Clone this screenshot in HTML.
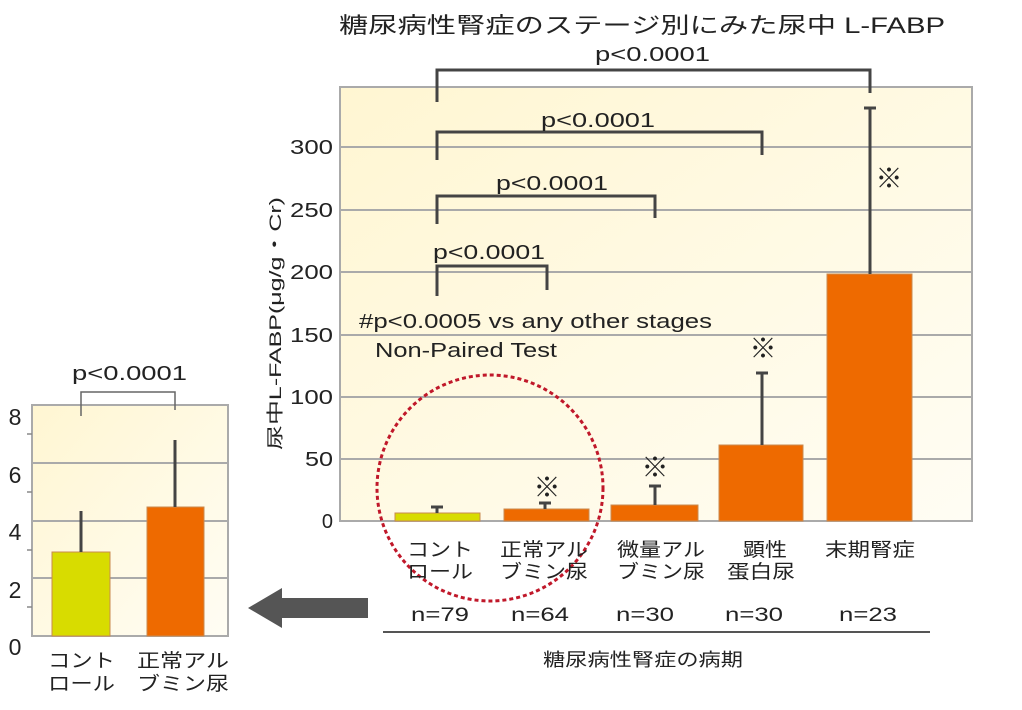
<!DOCTYPE html>
<html><head><meta charset="utf-8"><style>
html,body{margin:0;padding:0;background:#fff;}
svg{display:block;}
text{font-family:"Liberation Sans","Noto Sans CJK JP",sans-serif;fill:#222;}
</style></head><body>
<svg width="1022" height="710" viewBox="0 0 1022 710" xmlns="http://www.w3.org/2000/svg">
<defs>
<linearGradient id="bg" x1="0" y1="0" x2="1" y2="1">
<stop offset="0" stop-color="#fff6d2"/><stop offset="1" stop-color="#fffdf4"/>
</linearGradient>
</defs>
<text x="339" y="33" font-size="22" textLength="606" lengthAdjust="spacingAndGlyphs">糖尿病性腎症のステージ別にみた尿中 L-FABP</text>
<rect x="340" y="87" width="632" height="434" fill="url(#bg)" stroke="#aaa" stroke-width="2"/>
<g stroke="#aaa" stroke-width="2">
<line x1="340" y1="147" x2="972" y2="147"/><line x1="340" y1="210" x2="972" y2="210"/>
<line x1="340" y1="272" x2="972" y2="272"/><line x1="340" y1="335" x2="972" y2="335"/>
<line x1="340" y1="397" x2="972" y2="397"/><line x1="340" y1="459" x2="972" y2="459"/>
</g>
<g font-size="20" text-anchor="end">
<text x="333" y="528">0</text><text x="333" y="466" textLength="28" lengthAdjust="spacingAndGlyphs">50</text><text x="333" y="404" textLength="43" lengthAdjust="spacingAndGlyphs">100</text>
<text x="333" y="342" textLength="43" lengthAdjust="spacingAndGlyphs">150</text><text x="333" y="279" textLength="43" lengthAdjust="spacingAndGlyphs">200</text><text x="333" y="217" textLength="43" lengthAdjust="spacingAndGlyphs">250</text><text x="333" y="154" textLength="43" lengthAdjust="spacingAndGlyphs">300</text>
</g>
<text transform="translate(281,450) rotate(-90)" font-size="17" textLength="253" lengthAdjust="spacingAndGlyphs">尿中L-FABP(μg/g・Cr)</text>
<g stroke="#c98a50" stroke-width="1">
<rect x="395" y="513" width="85" height="8" fill="#d8dc00"/>
<rect x="504" y="509" width="85" height="12" fill="#ee6a00"/>
<rect x="611" y="505" width="87" height="16" fill="#ee6a00"/>
<rect x="719" y="445" width="84" height="76" fill="#ee6a00"/>
<rect x="827" y="274" width="85" height="247" fill="#ee6a00"/>
</g>
<g stroke="#444" stroke-width="3" fill="none">
<path d="M437 513V507M431 507H443"/>
<path d="M545 509V503M539 503H551"/>
<path d="M655 505V486M649 486H661"/>
<path d="M762 445V373M756 373H768"/>
<path d="M870 274V108M864 108H876"/>
<path d="M437 102V70H870V93"/>
<path d="M437 160V132H762V155"/>
<path d="M437 224V196H655V218"/>
<path d="M437 296V266H547V290"/>
</g>
<g font-size="20">
<text x="595" y="61" textLength="115" lengthAdjust="spacingAndGlyphs">p&lt;0.0001</text>
<text x="541" y="127" textLength="114" lengthAdjust="spacingAndGlyphs">p&lt;0.0001</text>
<text x="496" y="190" textLength="112" lengthAdjust="spacingAndGlyphs">p&lt;0.0001</text>
<text x="433" y="259" textLength="112" lengthAdjust="spacingAndGlyphs">p&lt;0.0001</text>
</g>
<g font-size="27" text-anchor="middle" font-weight="bold">
<text x="889" y="188">※</text><text x="763" y="358">※</text>
<text x="655" y="477">※</text><text x="547" y="497">※</text>
</g>
<text x="359" y="328" font-size="20" textLength="353" lengthAdjust="spacingAndGlyphs">#p&lt;0.0005 vs any other stages</text>
<text x="375" y="357" font-size="20" textLength="182" lengthAdjust="spacingAndGlyphs">Non-Paired Test</text>
<ellipse cx="490" cy="488" rx="113" ry="113" fill="none" stroke="#c0182a" stroke-width="3" stroke-dasharray="4,3"/>
<g font-size="19">
<text x="407" y="556" textLength="66" lengthAdjust="spacingAndGlyphs">コント</text><text x="407" y="578" textLength="66" lengthAdjust="spacingAndGlyphs">ロール</text>
<text x="500" y="556" textLength="88" lengthAdjust="spacingAndGlyphs">正常アル</text><text x="500" y="578" textLength="88" lengthAdjust="spacingAndGlyphs">ブミン尿</text>
<text x="617" y="556" textLength="88" lengthAdjust="spacingAndGlyphs">微量アル</text><text x="617" y="578" textLength="88" lengthAdjust="spacingAndGlyphs">ブミン尿</text>
<text x="743" y="556" textLength="44" lengthAdjust="spacingAndGlyphs">顕性</text><text x="727" y="578" textLength="68" lengthAdjust="spacingAndGlyphs">蛋白尿</text>
<text x="825" y="556" textLength="90" lengthAdjust="spacingAndGlyphs">末期腎症</text>
<text x="411" y="621" textLength="58" lengthAdjust="spacingAndGlyphs">n=79</text><text x="511" y="621" textLength="58" lengthAdjust="spacingAndGlyphs">n=64</text>
<text x="616" y="621" textLength="58" lengthAdjust="spacingAndGlyphs">n=30</text><text x="725" y="621" textLength="58" lengthAdjust="spacingAndGlyphs">n=30</text><text x="839" y="621" textLength="58" lengthAdjust="spacingAndGlyphs">n=23</text>
<text x="543" y="666" font-size="18" textLength="200" lengthAdjust="spacingAndGlyphs">糖尿病性腎症の病期</text>
</g>
<line x1="383" y1="632" x2="930" y2="632" stroke="#555" stroke-width="2"/>
<path d="M248 608L282 588V598H368V618H282V628Z" fill="#555"/>
<rect x="32" y="405" width="196" height="231" fill="url(#bg)" stroke="#aaa" stroke-width="2"/>
<g stroke="#aaa" stroke-width="2">
<line x1="32" y1="463" x2="228" y2="463"/><line x1="32" y1="521" x2="228" y2="521"/><line x1="32" y1="578" x2="228" y2="578"/>
</g>
<g stroke="#888" stroke-width="1.5">
<line x1="27" y1="434" x2="32" y2="434"/><line x1="27" y1="492" x2="32" y2="492"/>
<line x1="27" y1="550" x2="32" y2="550"/><line x1="27" y1="607" x2="32" y2="607"/>
</g>
<g font-size="23" text-anchor="middle">
<text x="15" y="425">8</text><text x="15" y="483">6</text><text x="15" y="540">4</text>
<text x="15" y="598">2</text><text x="15" y="655">0</text>
</g>
<g stroke="#c98a50" stroke-width="1">
<rect x="52" y="552" width="58" height="84" fill="#d8dc00"/>
<rect x="147" y="507" width="57" height="129" fill="#ee6a00"/>
</g>
<g stroke="#444" stroke-width="3" fill="none">
<path d="M81 552V511"/><path d="M175 507V440"/>
</g>
<path d="M81 416V392H175V410" stroke="#666" stroke-width="1.5" fill="none"/>
<text x="72" y="380" font-size="20" textLength="115" lengthAdjust="spacingAndGlyphs">p&lt;0.0001</text>
<g font-size="19">
<text x="48" y="667" textLength="67" lengthAdjust="spacingAndGlyphs">コント</text><text x="48" y="690" textLength="67" lengthAdjust="spacingAndGlyphs">ロール</text>
<text x="137" y="667" textLength="92" lengthAdjust="spacingAndGlyphs">正常アル</text><text x="137" y="690" textLength="92" lengthAdjust="spacingAndGlyphs">ブミン尿</text>
</g>
</svg>
</body></html>
